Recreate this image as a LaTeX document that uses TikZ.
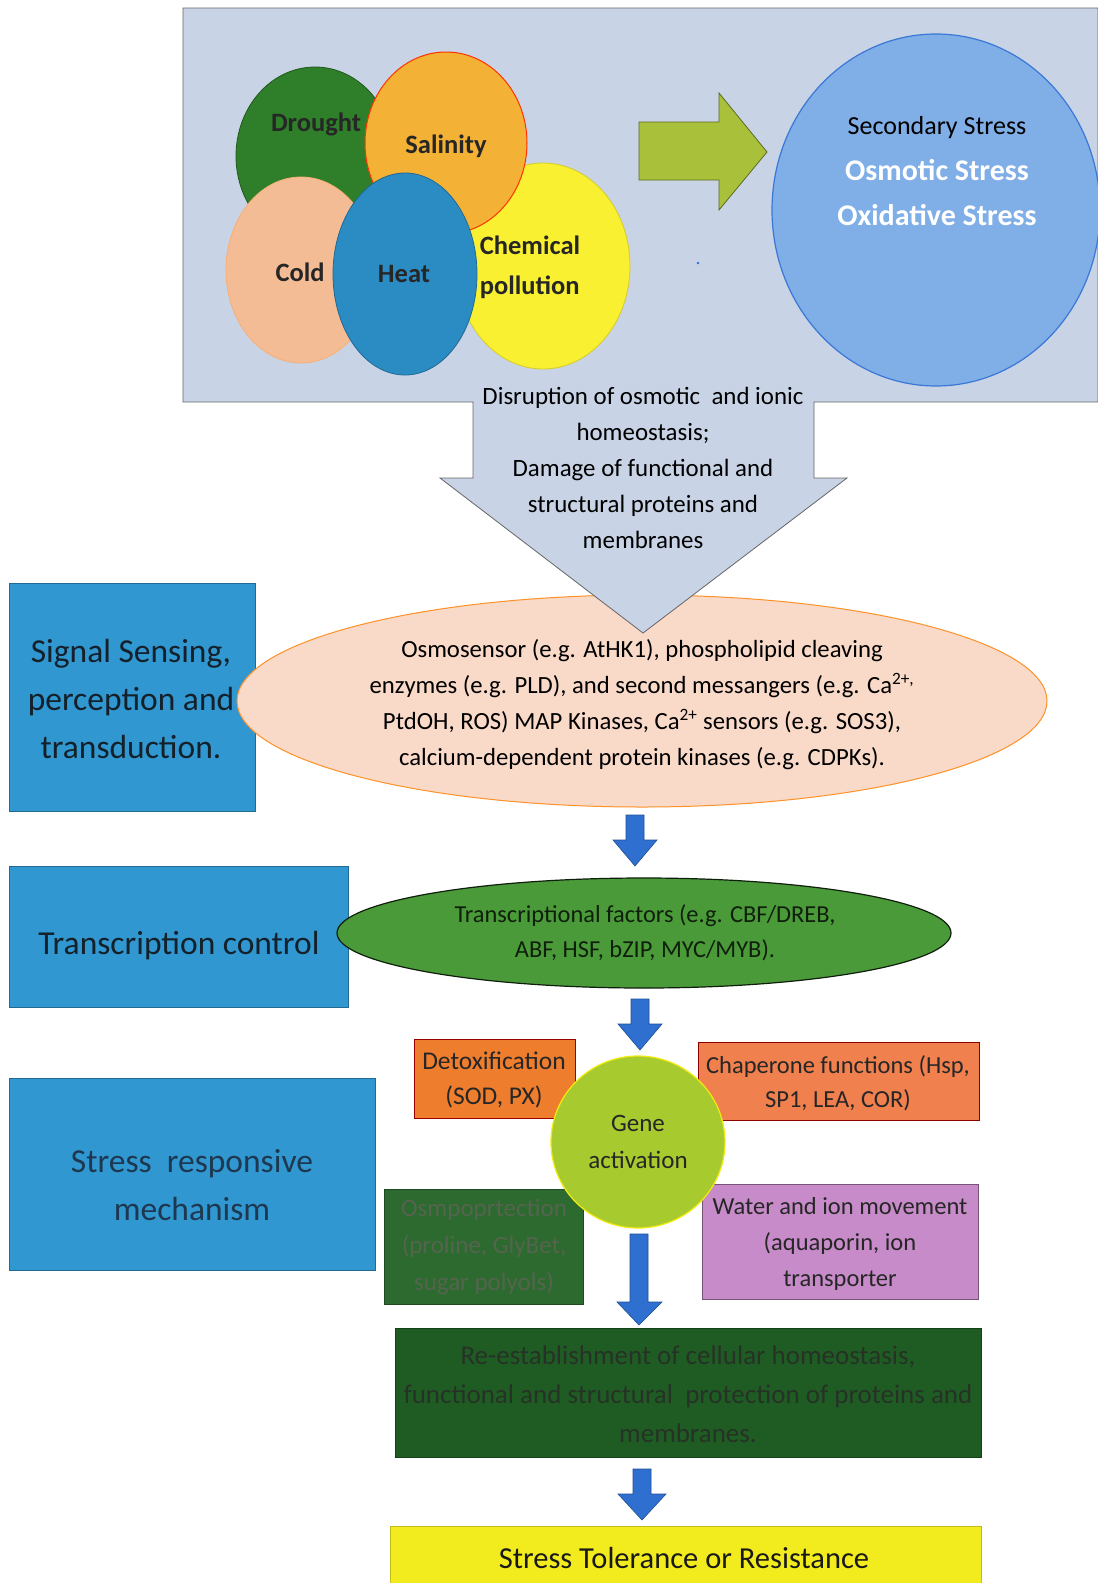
\documentclass[tikz,border=0pt]{standalone}
\usepackage{fontspec}
\setmainfont{Carlito}
\definecolor{topbg}{HTML}{C9D3E6}
\definecolor{droughtC}{HTML}{2F7F2A}
\definecolor{salinC}{HTML}{F3B135}
\definecolor{chemC}{HTML}{F8F030}
\definecolor{coldC}{HTML}{F4BC94}
\definecolor{heatC}{HTML}{2B8CC4}
\definecolor{garrC}{HTML}{A9C13A}
\definecolor{bigC}{HTML}{80AEE6}
\definecolor{bigD}{HTML}{3A78D6}
\definecolor{leftC}{HTML}{3097D0}
\definecolor{peachC}{HTML}{F9D9C8}
\definecolor{arrC}{HTML}{2E6FD0}
\definecolor{tfC}{HTML}{4A9A3A}
\definecolor{detoxC}{HTML}{EE7D2E}
\definecolor{chapC}{HTML}{F0804E}
\definecolor{geneC}{HTML}{A7CB2E}
\definecolor{osmoC}{HTML}{2D6A2F}
\definecolor{waterC}{HTML}{C68BC8}
\definecolor{reC}{HTML}{1F5C23}
\definecolor{yelC}{HTML}{F2EC1E}
\definecolor{osmoT}{HTML}{55644F}
\definecolor{reT}{HTML}{263226}
\definecolor{leftT}{HTML}{14202A}
\definecolor{srmT}{HTML}{1D3850}
\tikzset{
  lbl/.style={inner sep=0pt, align=center, text=black},
  leftbox/.style={fill=leftC, draw=leftC!70!black, line width=0.8pt},
  blk/.style={fill=arrC, draw=arrC!70!black, line width=0.6pt},
  circlbl/.style={lbl, font=\bfseries\fontsize{26.5}{40}\selectfont, text=black!85},
}
\newcommand{\blockdown}[4]{\path[blk] (#1-9,#2) -- (#1+9,#2) -- (#1+9,#3) -- (#1+22,#3) -- (#1,#4) -- (#1-22,#3) -- (#1-9,#3) -- cycle;}
\begin{document}
\begin{tikzpicture}[x=1pt,y=-1pt]
\fill[white] (0,0) rectangle (1098,1583);
\useasboundingbox (0,0) rectangle (1098,1583);

% left boxes
\draw[leftbox] (9,583) rectangle (255,811);
\node[lbl, font=\fontsize{33.5}{48}\selectfont, text=leftT] (sig) at (131,699) {Signal Sensing,\\perception and\\transduction.};
\draw[leftbox] (9,866) rectangle (348,1007);
\node[lbl, font=\fontsize{33.5}{48}\selectfont, text=leftT] (trc) at (179,946) {Transcription control};
\draw[leftbox] (9,1078) rectangle (375,1270);
\node[lbl, font=\fontsize{33.5}{48}\selectfont, text=srmT] (srm) at (192,1185) {Stress~ responsive\\mechanism};

% peach ellipse
\fill[peachC, draw={orange!80!peachC}, line width=1pt] (642,701) ellipse [x radius=405, y radius=106];
\node[lbl, font=\fontsize{24.7}{36}\selectfont] (sens) at (642,705) {Osmosensor (e.g. AtHK1), phospholipid cleaving\\enzymes (e.g. PLD), and second messangers (e.g. Ca\textsuperscript{2+,}\\PtdOH, ROS) MAP Kinases, Ca\textsuperscript{2+} sensors (e.g. SOS3),\\calcium-dependent protein kinases (e.g. CDPKs).};

% top box with big down arrow
\path[fill=topbg, draw=black!60, line width=0.8pt] (183,8) -- (1098,8) -- (1098,402) -- (814,402) -- (814,478) -- (847,478) -- (643,633) -- (440,478) -- (473,478) -- (473,402) -- (183,402) -- cycle;
\node[lbl, font=\fontsize{24.9}{36.2}\selectfont] (dis) at (643,468) {Disruption of osmotic~ and ionic\\homeostasis;\\Damage of functional and\\structural proteins and\\membranes};

% stress circles
\fill[droughtC, draw=droughtC!70!black, line width=0.8pt] (315,156) ellipse [x radius=79, y radius=89];
\fill[chemC, draw=chemC!85!black, line width=0.8pt] (543,266) ellipse [x radius=87, y radius=103];
\fill[salinC, draw={red!60!orange}, line width=1pt] (446,143) ellipse [x radius=81, y radius=91];
\fill[coldC, draw=coldC!80!orange, line width=0.8pt] (301,270) ellipse [x radius=75, y radius=93];
\fill[heatC, draw=heatC!75!black, line width=0.8pt] (405,274) ellipse [x radius=72, y radius=101];
\node[circlbl] (dr) at (316,124) {Drought};
\node[circlbl] (sa) at (446,146) {Salinity};
\node[circlbl, align=left] (ch) at (530,267) {Chemical\\pollution};
\node[circlbl] (co) at (300,272) {Cold};
\node[circlbl] (he) at (404,274) {Heat};

% green arrow
\path[fill=garrC, draw=garrC!55!black, line width=0.8pt] (639,122) -- (719,122) -- (719,93) -- (767,152) -- (719,210) -- (719,180) -- (639,180) -- cycle;
\fill[arrC] (698,263) circle (1.3);

% big blue circle
\begin{scope}
\clip (0,0) rectangle (1098,1583);
\fill[bigC, draw=bigD, line width=1.2pt] (936,210) ellipse [x radius=164, y radius=176];
\end{scope}
\node[lbl, font=\fontsize{26}{43}\selectfont] (sec) at (937,128) {Secondary Stress};
\node[lbl, font=\bfseries\fontsize{30}{43}\selectfont, text=white] (osm) at (937,170) {Osmotic Stress};
\node[lbl, font=\bfseries\fontsize{30}{43}\selectfont, text=white] (oxi) at (937,215) {Oxidative Stress};

% arrow 1
\blockdown{635}{815}{840}{866}

% green ellipse
\fill[tfC, draw=black!80!tfC, line width=1.2pt] (644,933) ellipse [x radius=307, y radius=55];
\node[lbl, font=\fontsize{24.4}{35}\selectfont, text=black!80!tfC] (tf) at (645,933) {Transcriptional factors (e.g. CBF/DREB,\\ABF, HSF, bZIP, MYC/MYB).};

% arrow 2
\blockdown{640}{999}{1024}{1050}

% gene activation cluster
\draw[fill=detoxC, draw=red!60!black, line width=0.8pt] (414,1039) rectangle (575,1118);
\node[lbl, font=\fontsize{25.5}{35}\selectfont, text=black!85] (dtx) at (494,1080) {Detoxification\\(SOD, PX)};
\draw[fill=chapC, draw=red!55!black, line width=1pt] (698,1042) rectangle (979,1120);
\node[lbl, font=\fontsize{24.5}{34}\selectfont, text=black!85] (chp) at (838,1083) {Chaperone functions (Hsp,\\SP1, LEA, COR)};
\draw[fill=osmoC, draw=osmoC!70!black, line width=0.8pt] (384,1189) rectangle (583,1304);
\node[lbl, font=\fontsize{25}{37}\selectfont, text=osmoT] (osp) at (484,1247) {Osmpoprtection\\(proline, GlyBet,\\sugar polyols)};
\draw[fill=waterC, draw=waterC!60!black, line width=1pt] (702,1184) rectangle (978,1299);
\node[lbl, font=\fontsize{24.5}{36}\selectfont, text=black!85] (wat) at (840,1244) {Water and ion movement\\(aquaporin, ion\\transporter};
\fill[geneC, draw={yellow!85!geneC}, line width=1.2pt] (638,1142) ellipse [x radius=87, y radius=86];
\node[lbl, font=\fontsize{25}{37}\selectfont, text=black!85] (gene) at (638,1142) {Gene\\activation};

% arrow 3
\path[blk] (630,1234) -- (648,1234) -- (648,1302) -- (662,1302) -- (639,1325) -- (617,1302) -- (630,1302) -- cycle;

% re-establishment
\draw[fill=reC, draw=reC!70!black, line width=0.8pt] (395,1328) rectangle (981,1457);
\node[lbl, font=\fontsize{27}{39}\selectfont, text=reT] (re) at (688,1394) {Re-establishment of cellular homeostasis,\\functional and structural~ protection of proteins and\\membranes.};

% arrow 4
\path[blk] (633,1469) -- (651,1469) -- (651,1494) -- (666,1494) -- (642,1520) -- (618,1494) -- (633,1494) -- cycle;

% final
\draw[fill=yelC, draw=yelC!80!black, line width=0.8pt] (390,1526) rectangle (981,1590);
\node[lbl, font=\fontsize{30.5}{40}\selectfont, text=black!90] (tol) at (684,1558) {Stress Tolerance or Resistance};
\end{tikzpicture}
\end{document}
